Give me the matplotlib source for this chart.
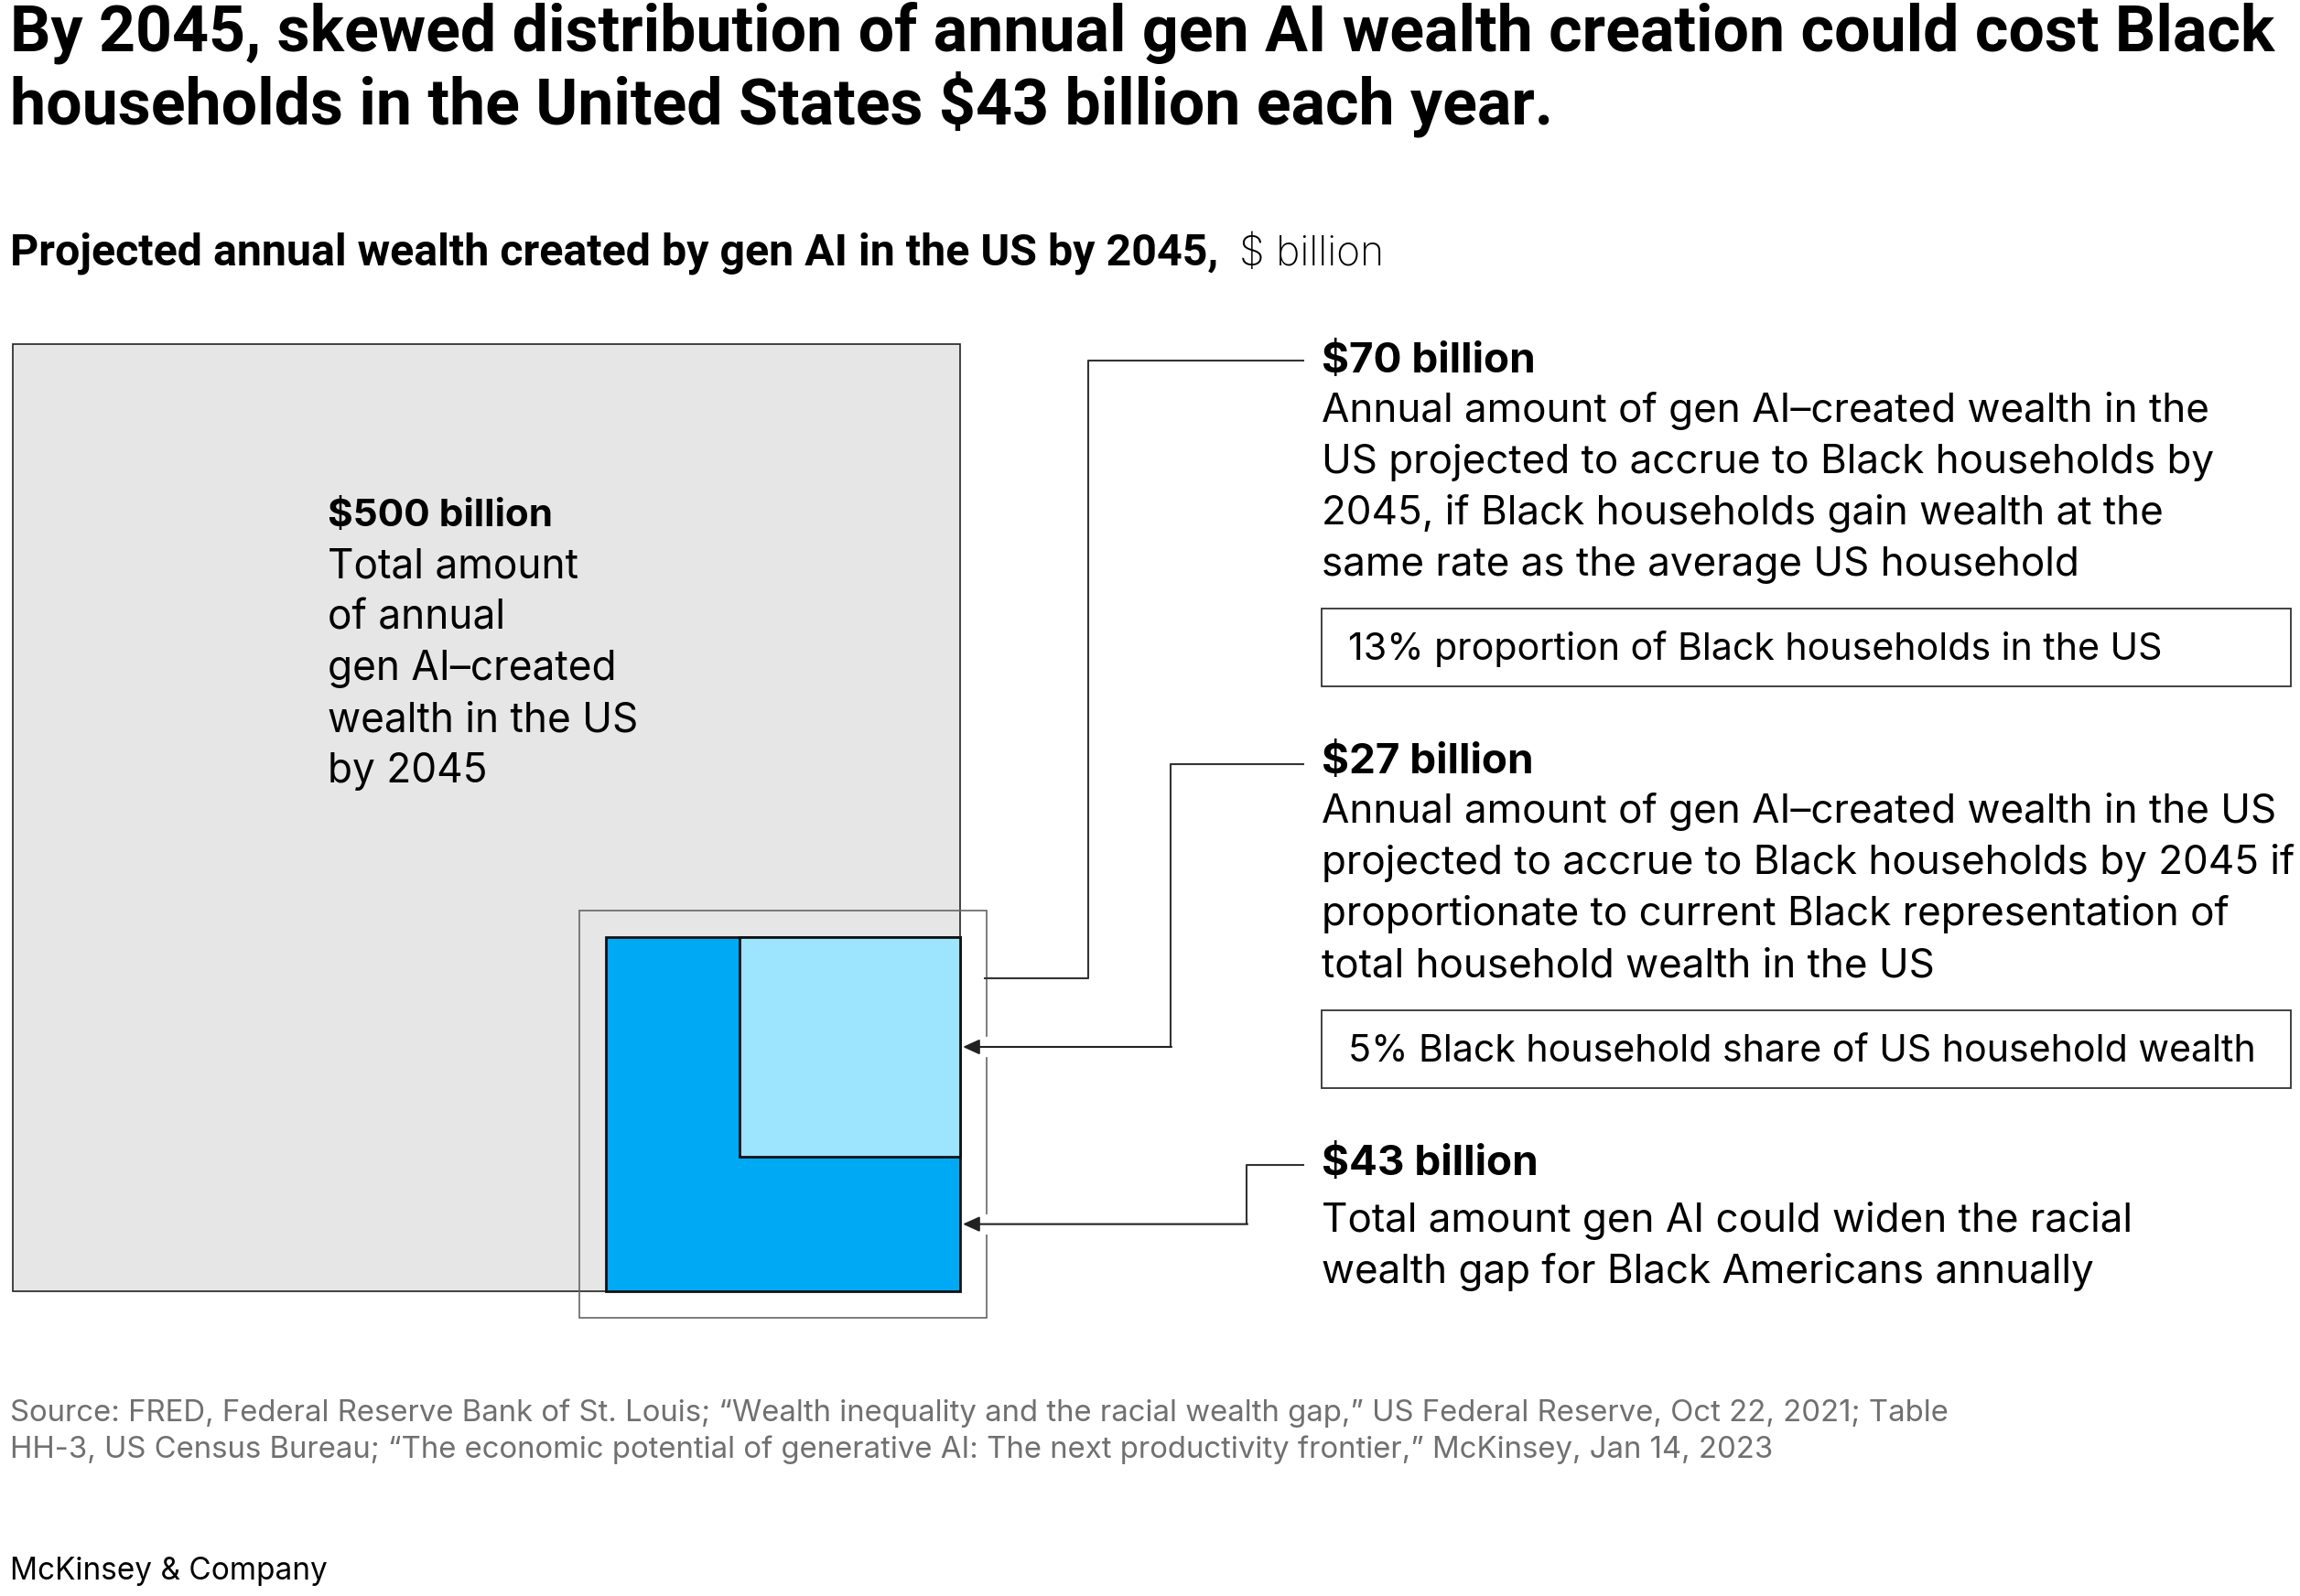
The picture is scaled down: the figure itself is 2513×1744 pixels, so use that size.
import numpy as np
import matplotlib
matplotlib.use("Agg")
import matplotlib.pyplot as plt
from matplotlib.patches import Rectangle

# 图片尺寸（像素）
W, H = 2513, 1744

# 数据：$ billion
values = [500, 70, 27, 43]
value_labels = ["$%d billion" % v for v in values]
descriptions = [
    ["Total amount", "of annual", "gen AI\u2013created", "wealth in the US", "by 2045"],
    ["Annual amount of gen AI\u2013created wealth in the",
     "US projected to accrue to Black households by",
     "2045, if Black households gain wealth at the",
     "same rate as the average US household"],
    ["Annual amount of gen AI\u2013created wealth in the US",
     "projected to accrue to Black households by 2045 if",
     "proportionate to current Black representation of",
     "total household wealth in the US"],
    ["Total amount gen AI could widen the racial",
     "wealth gap for Black Americans annually"],
]
notes = ["13% proportion of Black households in the US",
         "5% Black household share of US household wealth"]

title_lines = ["By 2045, skewed distribution of annual gen AI wealth creation could cost Black",
               "households in the United States $43 billion each year."]
subtitle_bold = "Projected annual wealth created by gen AI in the US by 2045,"
subtitle_unit = "$ billion"
source_lines = ["Source: FRED, Federal Reserve Bank of St. Louis; \u201cWealth inequality and the racial wealth gap,\u201d US Federal Reserve, Oct 22, 2021; Table",
                "HH-3, US Census Bureau; \u201cThe economic potential of generative AI: The next productivity frontier,\u201d McKinsey, Jan 14, 2023"]

BODY = "Inter"
HEAD = "Roboto"
plt.rcParams['font.family'] = [BODY, 'DejaVu Sans']

fig = plt.figure(figsize=(W / 100, H / 100), dpi=100)
ax = fig.add_axes([0, 0, 1, 1])
ax.set_xlim(0, W)
ax.set_ylim(H, 0)
ax.axis('off')

# 标题
ax.text(11, 55, title_lines[0], family=HEAD, weight='bold', fontsize=50.3, va='baseline')
ax.text(11, 135, title_lines[1], family=HEAD, weight='bold', fontsize=50.3, va='baseline')
ax.text(11, 290, subtitle_bold, family=HEAD, weight='bold', fontsize=34.8, va='baseline')
ax.text(1354, 290, subtitle_unit, fontsize=32, va='baseline', weight='light')

# 方块：面积与数值成正比
big_left, big_bottom, big_side = 14, 1411, 1035
side = [big_side * np.sqrt(v / values[0]) for v in values]
big_right = big_left + big_side
big_top = big_bottom - big_side

ax.add_patch(Rectangle((big_left, big_top), big_side, big_side,
                       facecolor='#e6e6e6', edgecolor='#222222', lw=1.2, zorder=1))

dark_left = big_right - side[1]
dark_top = big_bottom - side[1]
pad = 29
box_right = big_right + pad
ax.add_patch(Rectangle((dark_left - pad, dark_top - pad), side[1] + 2 * pad, side[1] + 2 * pad,
                       facecolor='none', edgecolor='#666666', lw=1.2, zorder=2))
ax.add_patch(Rectangle((dark_left, dark_top), side[1], side[1],
                       facecolor='#00a9f4', edgecolor='#111111', lw=2, zorder=3))
light_left = big_right - side[2]
light_bottom = dark_top + side[2]
ax.add_patch(Rectangle((light_left, dark_top), side[2], side[2],
                       facecolor='#9de5ff', edgecolor='#111111', lw=2, zorder=4))

# 左侧文字
ax.text(358, 575, value_labels[0], weight='bold', fontsize=30.4, va='baseline', zorder=5)
for i, line in enumerate(descriptions[0]):
    ax.text(358, 631 + 56 * i, line, fontsize=31.8, va='baseline', zorder=5)

# 右侧文字
text_x = 1444
label_y = [394, 832, 1271]
body_y = [[461, 517, 573, 629], [899, 955, 1011, 1067], [1346, 1402]]
for k in range(3):
    ax.text(text_x, label_y[k] + 13, value_labels[k + 1], weight='bold', fontsize=33, va='baseline')
    for line, y in zip(descriptions[k + 1], body_y[k]):
        ax.text(text_x, y, line, fontsize=31.7, va='baseline')

note_top = [665, 1104]
for note, top in zip(notes, note_top):
    ax.add_patch(Rectangle((text_x, top), 2503 - text_x, 85,
                           facecolor='none', edgecolor='#333333', lw=1.3))
    ax.text(1473, top + 56, note, fontsize=29.6, va='baseline')

# 引线和箭头
line_kw = dict(color='#333333', lw=1.5, solid_capstyle='butt')
lead_start = 1425
tip_x = big_right + 3
arrow_y = [dark_top + side[2] / 2, (light_bottom + big_bottom) / 2]

ax.plot([lead_start, 1189, 1189, box_right - 3], [394, 394, dark_top + 45, dark_top + 45], **line_kw)
elbows = [(1279, 835), (1362, 1273)]
for (vx, ly), ay in zip(elbows, arrow_y):
    ax.plot([lead_start, vx, vx], [ly, ly, ay], **line_kw)
    ax.plot([box_right, box_right], [ay - 9, ay + 9], color='white', lw=3, zorder=5)
    ax.annotate('', xy=(tip_x, ay), xytext=(vx + 1, ay), zorder=6,
                arrowprops=dict(arrowstyle='-|>,head_length=0.55,head_width=0.25',
                                color='#222222', lw=1.5, shrinkA=0, shrinkB=0,
                                mutation_scale=20))

# 来源
ax.text(11, 1553, source_lines[0], fontsize=23.7, color='#707070', va='baseline')
ax.text(11, 1593, source_lines[1], fontsize=23.7, color='#707070', va='baseline')
ax.text(11, 1726, "McKinsey & Company", fontsize=24, color='#000000', va='baseline')

fig.savefig("out.png", dpi=100)
